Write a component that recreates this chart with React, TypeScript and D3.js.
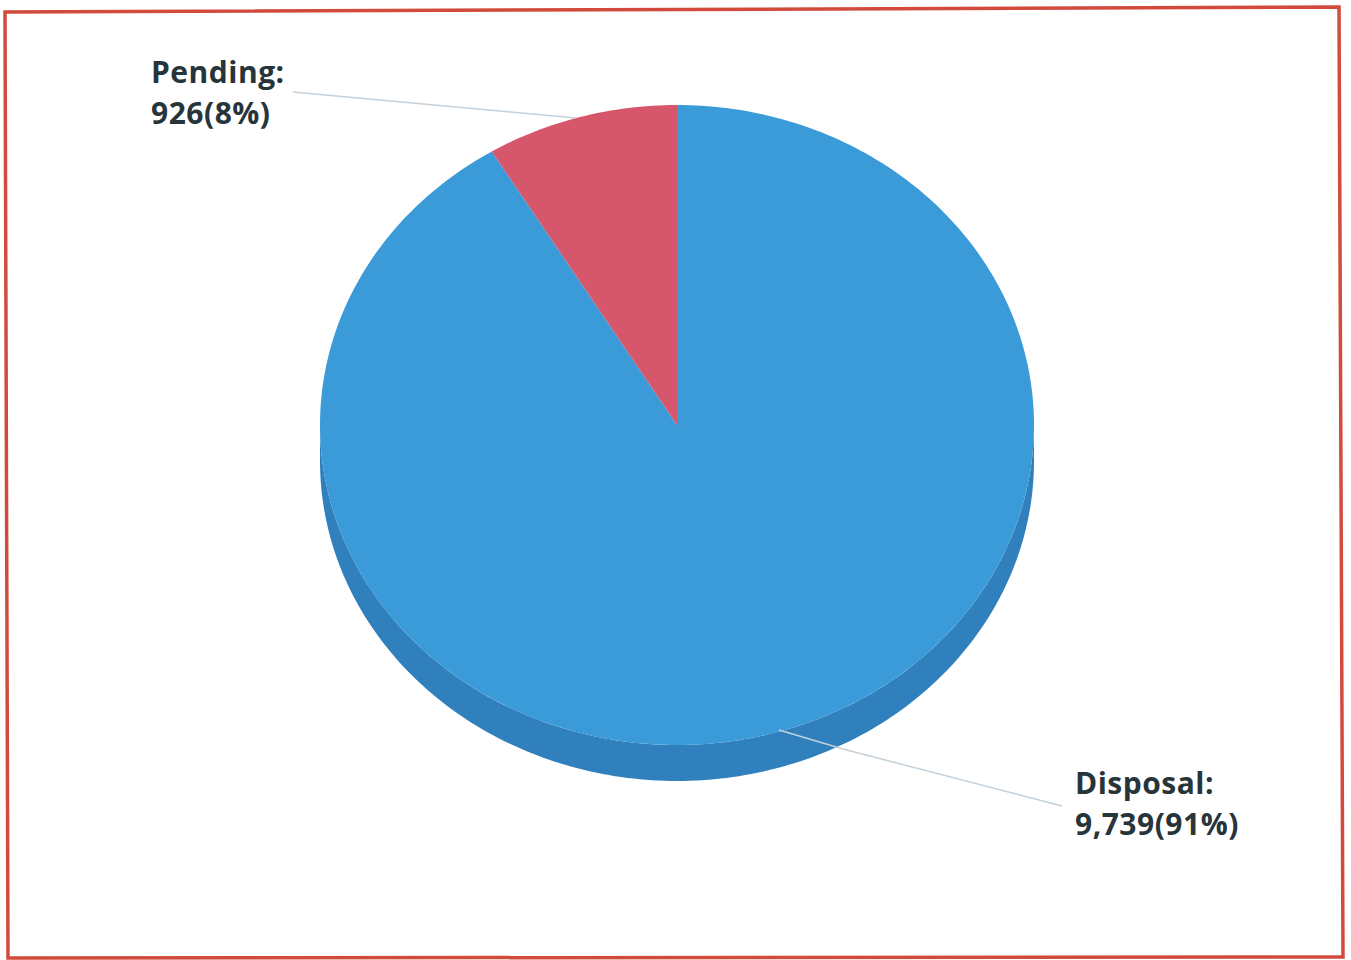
import React from "react";
import * as d3 from "d3";

const categories = ["Disposal", "Pending"];
const values = [9739, 926];
const percentLabels = ["91%", "8%"];
const topColors = ["#3b9bd9", "#d6566b"];
const sideColors = ["#2f80bd", "#b04257"];

const W = 1351;
const H = 960;

export default function App() {
  const cx = 677, cy = 425, rx = 357, ry = 320, depth = 36;
  const pie = d3.pie<number>().sort(null).value((d) => d);
  const arcs = pie(values);

  const pt = (a: number, dy = 0): [number, number] => [cx + rx * Math.sin(a), cy - ry * Math.cos(a) + dy];

  const facePath = (a0: number, a1: number) => {
    const n = Math.max(2, Math.ceil(((a1 - a0) * 180) / Math.PI));
    const pts: [number, number][] = [[cx, cy]];
    for (let i = 0; i <= n; i++) pts.push(pt(a0 + ((a1 - a0) * i) / n));
    return d3.line()(pts) + "Z";
  };

  const sidePath = (a0: number, a1: number) => {
    const s = Math.max(a0, Math.PI / 2);
    const e = Math.min(a1, (3 * Math.PI) / 2);
    if (e <= s) return null;
    const n = Math.max(2, Math.ceil(((e - s) * 180) / Math.PI));
    const top: [number, number][] = [];
    const bot: [number, number][] = [];
    for (let i = 0; i <= n; i++) {
      const a = s + ((e - s) * i) / n;
      top.push(pt(a));
      bot.push(pt(a, depth));
    }
    return d3.line()([...top, ...bot.reverse()]) + "Z";
  };

  const fmt = d3.format(",");
  const labels = [
    { i: 0, x: 1075, y: 794, line: [[1062, 806], [843, 749], [779, 730]] },
    { i: 1, x: 151, y: 83, line: [[293, 92], [576, 118]] },
  ];

  return (
    <svg width={W} height={H} style={{ position: "absolute", left: 0, top: 0 }}>
      <rect x={0} y={0} width={W} height={H} fill="#ffffff" />
      <polygon points="5,12 1339,7 1343,957 8,958" fill="none" stroke="#d24a3c" strokeWidth={3.5} />
      {arcs.map((a, i) => {
        const d = sidePath(a.startAngle, a.endAngle);
        return d ? <path key={"s" + i} d={d} fill={sideColors[i]} /> : null;
      })}
      {arcs.map((a, i) => (
        <path key={"f" + i} d={facePath(a.startAngle, a.endAngle)} fill={topColors[i]} />
      ))}
      {labels.map((l) => (
        <g key={"l" + l.i}>
          <path d={d3.line()(l.line as [number, number][]) || ""} fill="none" stroke="#c3d0da" strokeWidth={1.5} />
          <text x={l.x} y={l.y} fontFamily="'Open Sans', sans-serif" fontWeight={700} fontSize={30} letterSpacing={0.5} fill="#27343a">
            <tspan x={l.x} dy={0}>{categories[l.i]}:</tspan>
            <tspan x={l.x} dy={41}>{fmt(values[l.i])}({percentLabels[l.i]})</tspan>
          </text>
        </g>
      ))}
    </svg>
  );
}
